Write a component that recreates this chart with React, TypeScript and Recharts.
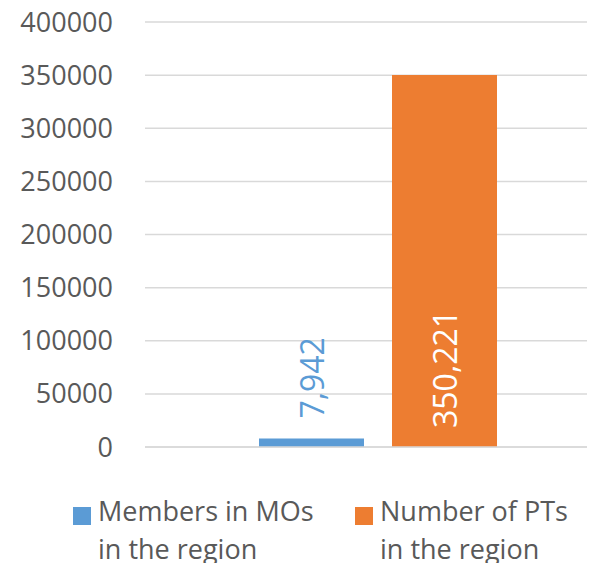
import { BarChart, Bar, XAxis, YAxis, CartesianGrid, Legend, LabelList } from "recharts";

const categories = ["Region"];
const membersInMOs = [7942];
const numberOfPTs = [350221];
const yTicks = [0, 50000, 100000, 150000, 200000, 250000, 300000, 350000, 400000];

const seriesNames = ["Members in MOs in the region", "Number of PTs in the region"];
const seriesColors = ["#5b9bd5", "#ed7d31"];

const data = categories.map((c, i) => ({
  category: c,
  members: membersInMOs[i],
  pts: numberOfPTs[i],
}));

const FONT = "'Open Sans', sans-serif";

const fmt = (v: number) => v.toLocaleString("en-US");

const OutsideLabel = (props: any) => {
  const { x, y, width, value } = props;
  const cx = x + width / 2;
  const ty = y - 20;
  return (
    <text
      x={cx}
      y={ty}
      transform={`rotate(-90 ${cx} ${ty})`}
      textAnchor="start"
      dominantBaseline="central"
      fill={seriesColors[0]}
      fontSize={32}
      fontFamily={FONT}
    >
      {fmt(value)}
    </text>
  );
};

const InsideBaseLabel = (props: any) => {
  const { x, y, width, height, value } = props;
  const cx = x + width / 2;
  const ty = y + height - 19;
  return (
    <text
      x={cx}
      y={ty}
      transform={`rotate(-90 ${cx} ${ty})`}
      textAnchor="start"
      dominantBaseline="central"
      fill="#ffffff"
      fontSize={32}
      fontFamily={FONT}
    >
      {fmt(value)}
    </text>
  );
};

const renderLegend = () => {
  const items = [
    { left: 65, label: ["Members in MOs", "in the region"], color: seriesColors[0] },
    { left: 347, label: ["Number of PTs", "in the region"], color: seriesColors[1] },
  ];
  return (
    <div style={{ position: "relative", height: 80, fontFamily: FONT }}>
      {items.map((it) => (
        <div key={it.left} style={{ position: "absolute", left: it.left, top: 0 }}>
          <div
            style={{
              position: "absolute",
              left: 0,
              top: 15,
              width: 18,
              height: 18,
              background: it.color,
            }}
          />
          <div
            style={{
              position: "absolute",
              left: 25,
              top: 0,
              whiteSpace: "nowrap",
              fontSize: 27,
              lineHeight: "38px",
              color: "#595959",
            }}
          >
            {it.label[0]}
            <br />
            {it.label[1]}
          </div>
        </div>
      ))}
    </div>
  );
};

export default function App() {
  return (
    <div style={{ width: 587, height: 555, overflow: "hidden" }}>
      <BarChart
        width={603}
        height={600}
        data={data}
        margin={{ top: 14, right: 0, bottom: 0, left: 0 }}
        barGap={28}
        barSize={105}
      >
        <CartesianGrid vertical={false} stroke="#d9d9d9" strokeWidth={1.5} />
        <XAxis
          dataKey="category"
          tick={false}
          tickLine={false}
          axisLine={{ stroke: "#d9d9d9", strokeWidth: 1.5 }}
          height={81}
        />
        <YAxis
          domain={[0, 400000]}
          ticks={yTicks}
          width={137}
          tickSize={0}
          tickMargin={32}
          axisLine={false}
          tickLine={false}
          interval={0}
          tick={{ fill: "#595959", fontSize: 27, fontFamily: FONT }}
        />
        <Legend
          content={renderLegend}
          verticalAlign="bottom"
          wrapperStyle={{ left: 0, top: 484, width: 603 }}
        />
        <Bar dataKey="members" name={seriesNames[0]} fill={seriesColors[0]} isAnimationActive={false}>
          <LabelList dataKey="members" content={OutsideLabel} />
        </Bar>
        <Bar dataKey="pts" name={seriesNames[1]} fill={seriesColors[1]} isAnimationActive={false}>
          <LabelList dataKey="pts" content={InsideBaseLabel} />
        </Bar>
      </BarChart>
    </div>
  );
}
